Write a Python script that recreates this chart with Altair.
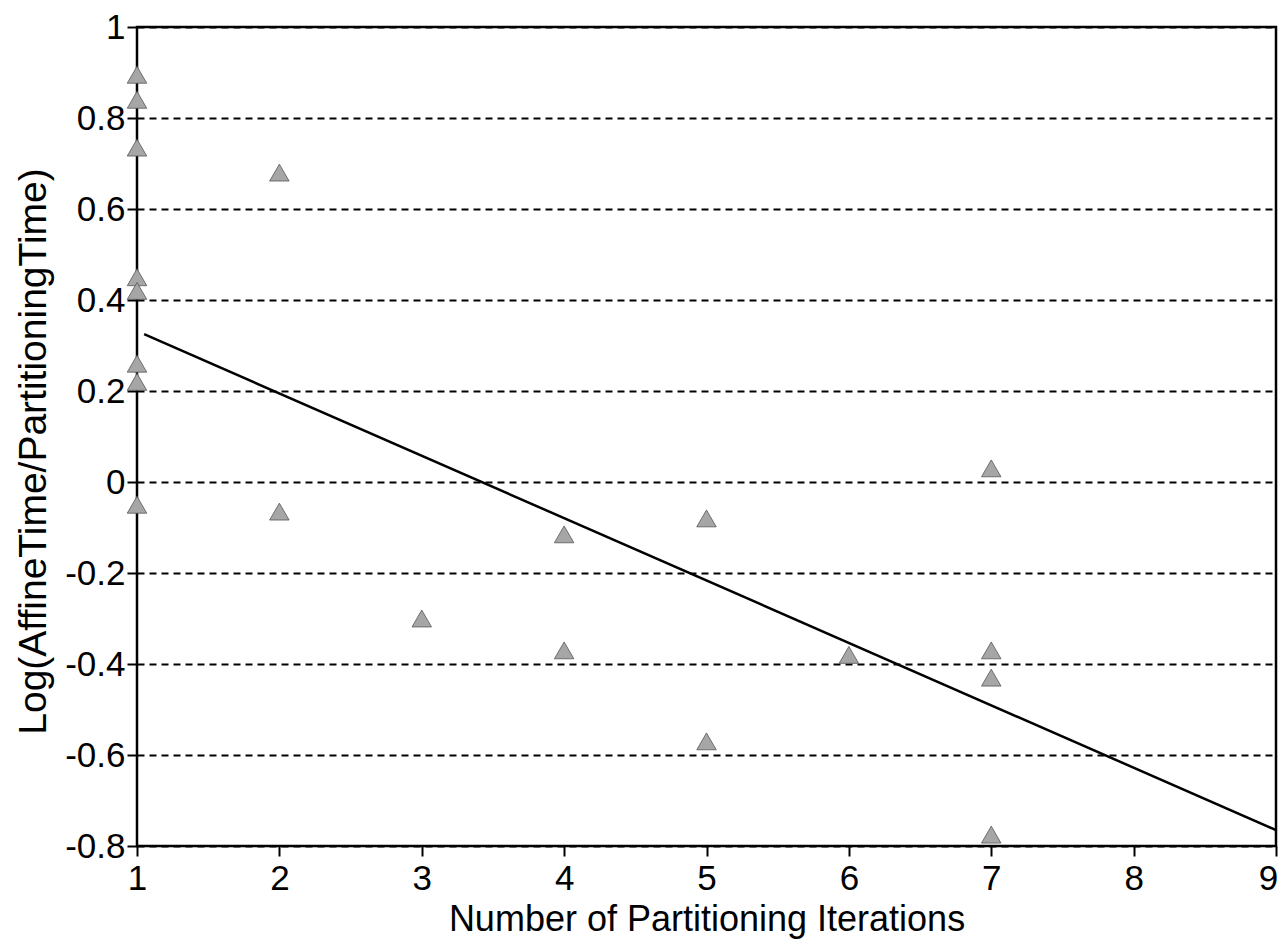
import altair as alt
import pandas as pd

# Observed points (iterations, log ratio)
iters = [1, 1, 1, 1, 1, 1, 1, 1,
         2, 2,
         3,
         4, 4,
         5, 5,
         6,
         7, 7, 7, 7]
log_ratio = [0.895, 0.84, 0.735, 0.45, 0.42, 0.26, 0.22, -0.05,
             0.68, -0.065,
             -0.30,
             -0.115, -0.37,
             -0.08, -0.57,
             -0.38,
             0.03, -0.37, -0.43, -0.775]

# Fitted regression line endpoints
fit_x = [1.05, 9.0]
fit_y = [0.325, -0.765]

x_ticks = [1, 2, 3, 4, 5, 6, 7, 8, 9]
y_ticks = [-0.8, -0.6, -0.4, -0.2, 0, 0.2, 0.4, 0.6, 0.8, 1]

pts = pd.DataFrame({"x": iters, "y": log_ratio})
fit = pd.DataFrame({"x": fit_x, "y": fit_y})

FONT = "Liberation Sans"

xscale = alt.Scale(domain=[1, 9], nice=False, zero=False)
yscale = alt.Scale(domain=[-0.8, 1], nice=False, zero=False)

xaxis = alt.Axis(
    values=x_ticks, grid=False, domain=False, format="d",
    tickColor="black", tickSize=10, tickWidth=2,
    labelFont=FONT, labelFontSize=35, labelColor="black", labelPadding=5,
    labelFlush=False,
    labelOffset={"condition": {"test": "datum.value == 9", "value": -8}, "value": 0},
    title="Number of Partitioning Iterations",
    titleFont=FONT, titleFontSize=36, titleFontWeight="normal", titleColor="black",
    titleBaseline="alphabetic", titleY=84,
)
yaxis = alt.Axis(
    values=y_ticks, grid=True, gridColor="black", gridDash=[7, 5], gridWidth=2,
    domain=False, tickColor="black", tickSize=10, tickWidth=2,
    labelFont=FONT, labelFontSize=35, labelColor="black", labelPadding=2,
    labelExpr="datum.value < 0 ? '-' + format(-datum.value, '~g') : format(datum.value, '~g')",
    title="Log(AffineTime/PartitioningTime)",
    titleFont=FONT, titleFontSize=39, titleFontWeight="normal", titleColor="black",
    titleBaseline="alphabetic", titleX=-92, titleY=424,
)

points = alt.Chart(pts).mark_point(
    shape="triangle-up", filled=True, size=380, color="#a6a6a6",
    stroke="#555555", strokeWidth=0.8, opacity=1,
).encode(
    x=alt.X("x:Q", scale=xscale, axis=xaxis),
    y=alt.Y("y:Q", scale=yscale, axis=yaxis),
)

line = alt.Chart(fit).mark_line(color="black", strokeWidth=2.5).encode(
    x=alt.X("x:Q", scale=xscale),
    y=alt.Y("y:Q", scale=yscale),
)

chart = (
    alt.layer(points, line)
    .properties(
        width=1139, height=819,
        autosize=alt.AutoSizeParams(type="none"),
        padding={"left": 129, "top": 19, "right": 2, "bottom": 94},
        background="white",
    )
    .configure_view(stroke="black", strokeWidth=2.5)
)

chart.save("out.html", embed_options={"renderer": "svg", "actions": False})
